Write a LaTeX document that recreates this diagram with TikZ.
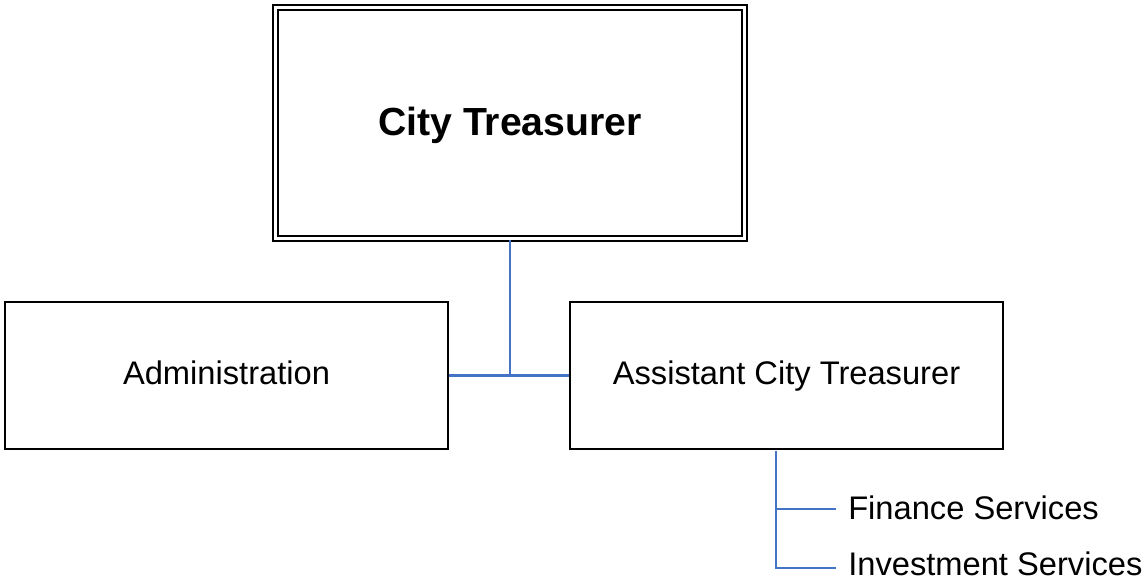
\documentclass[tikz,border=0pt]{standalone}
\usepackage{fontspec}
\setmainfont{Liberation Sans}
\definecolor{linkblue}{HTML}{4472C4}
\begin{document}
\begin{tikzpicture}[x=0.75pt,y=-0.75pt,
  box/.style={draw=black, line width=1.8pt, fill=white, inner sep=0pt, text height=17.5pt, text depth=4.5pt, font=\fontsize{24.5}{29}\selectfont},
  topbox/.style={draw=black, line width=1.7pt, double=white, double distance=1.85pt, inner sep=0pt, text height=21pt, text depth=3pt, font=\fontsize{29.4}{35}\selectfont\bfseries},
  link/.style={draw=linkblue, line width=1.8pt},
  item/.style={inner sep=0pt, anchor=west, text height=17.5pt, text depth=0pt, font=\fontsize{24.5}{29}\selectfont}]
\useasboundingbox (0,0) rectangle (1142,582);
\node[topbox, minimum width=351.75pt, minimum height=173.25pt] (top) at (510,123) {City Treasurer};
\node[box, minimum width=332.25pt, minimum height=110.25pt] (admin) at (226.5,375.5) {Administration};
\node[box, minimum width=324.75pt, minimum height=110.25pt] (asst) at (786.5,375.5) {Assistant City Treasurer};
\coordinate (mid) at (510,375.5);
\draw[link] (top.south) -- (mid);
\draw[link] (admin.east) -- (asst.west);
\node[item] (fin) at (848,507.5) {Finance Services};
\node[item] (inv) at (848,564) {Investment Services};
\coordinate (stem) at (776,450.5);
\coordinate (finend) at (836,509);
\coordinate (invend) at (836,568);
\draw[link] (stem) |- (invend);
\draw[link] (stem |- finend) -- (finend);
\end{tikzpicture}
\end{document}
